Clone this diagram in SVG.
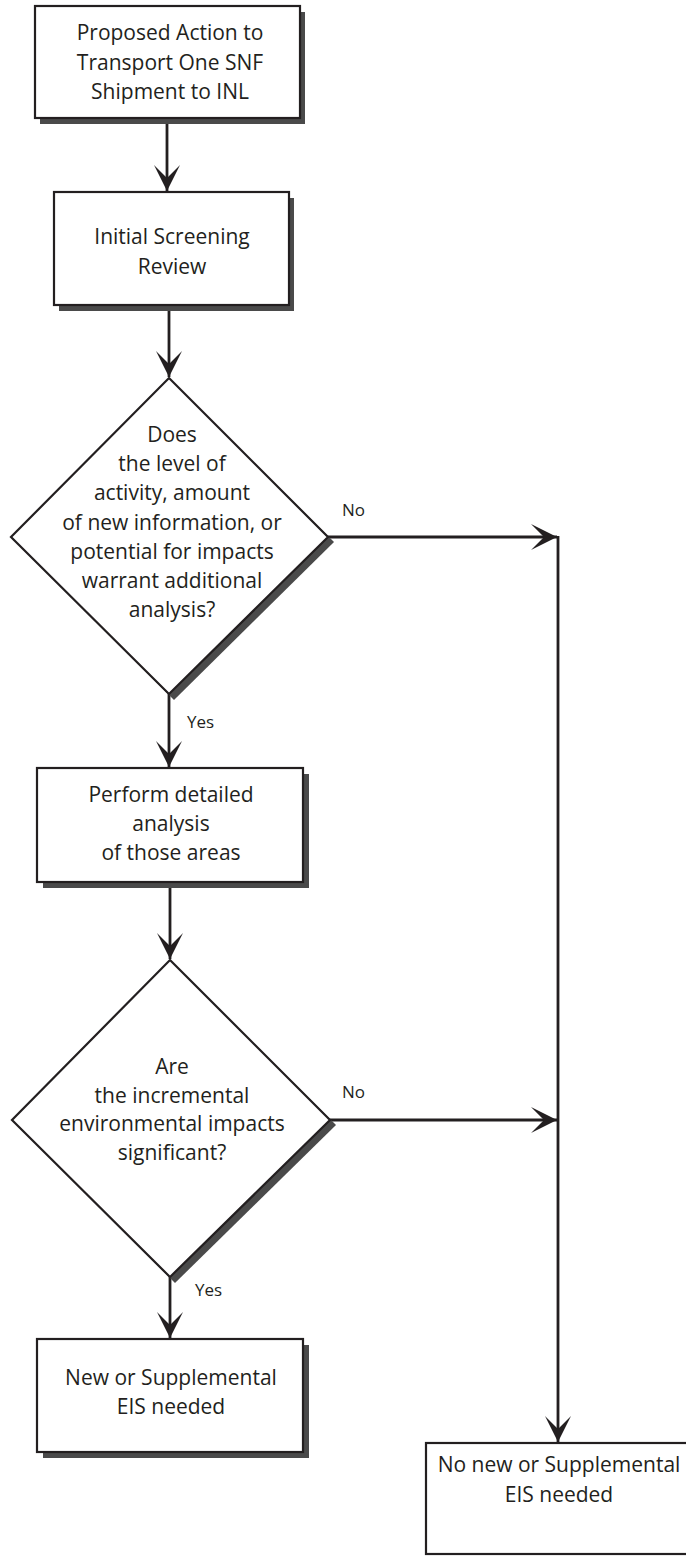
<svg xmlns="http://www.w3.org/2000/svg" width="686" height="1557" viewBox="0 0 686 1557">
<style>
.bg{fill:#ffffff}
.box{fill:#ffffff;stroke:#231f20;stroke-width:2.2}
.shadow{fill:#4a4a4a}
.t{font-family:"Open Sans","Liberation Sans",sans-serif;font-size:21px;fill:#231f20;text-anchor:middle}
.lbl{font-family:"Open Sans","Liberation Sans",sans-serif;font-size:17px;fill:#231f20}
.conn{stroke:#231f20;stroke-width:2.8;fill:none}
</style>
<defs>
<marker id="arr" viewBox="-27 -14 28 28" refX="0" refY="0" markerWidth="28" markerHeight="28" markerUnits="userSpaceOnUse" orient="auto">
<path d="M0,0 L-26,-13 L-13,0 L-26,13 Z" fill="#231f20"/>
</marker>
</defs>
<rect class="bg" x="0" y="0" width="686" height="1557"/>

<g id="connectors">
<line class="conn" x1="167" y1="119" x2="167" y2="191" marker-end="url(#arr)"/>
<line class="conn" x1="169" y1="306" x2="169" y2="377" marker-end="url(#arr)"/>
<line class="conn" x1="169" y1="694" x2="169" y2="767" marker-end="url(#arr)"/>
<line class="conn" x1="170" y1="883" x2="170" y2="959" marker-end="url(#arr)"/>
<line class="conn" x1="170" y1="1276" x2="170" y2="1338" marker-end="url(#arr)"/>
<line class="conn" x1="328" y1="537" x2="557" y2="537" marker-end="url(#arr)"/>
<line class="conn" x1="330" y1="1120" x2="557" y2="1120" marker-end="url(#arr)"/>
<line class="conn" x1="558" y1="536" x2="558" y2="1442" marker-end="url(#arr)"/>
<text class="lbl" x="342" y="516">No</text>
<text class="lbl" x="187" y="728">Yes</text>
<text class="lbl" x="342" y="1098">No</text>
<text class="lbl" x="195" y="1296">Yes</text>
</g>

<g id="n1">
<rect class="shadow" x="40" y="12" width="265" height="112"/>
<rect class="box" x="35" y="6" width="265" height="112"/>
<text class="t" x="170" y="40">Proposed Action to</text>
<text class="t" x="170" y="70">Transport One SNF</text>
<text class="t" x="170" y="99">Shipment to INL</text>
</g>

<g id="n2">
<rect class="shadow" x="59" y="198" width="235" height="113"/>
<rect class="box" x="54" y="192" width="235" height="113"/>
<text class="t" x="172" y="244">Initial Screening</text>
<text class="t" x="172" y="274">Review</text>
</g>

<g id="d1">
<polygon class="shadow" points="174,383 334,542 174,700 16,542"/>
<polygon class="box" points="169,378 328,537 169,694 11,537"/>
<text class="t" x="172" y="442">Does</text>
<text class="t" x="172" y="471">the level of</text>
<text class="t" x="172" y="500">activity, amount</text>
<text class="t" x="172" y="530">of new information, or</text>
<text class="t" x="172" y="559">potential for impacts</text>
<text class="t" x="172" y="588">warrant additional</text>
<text class="t" x="172" y="617">analysis?</text>
</g>

<g id="n3">
<rect class="shadow" x="43" y="774" width="266" height="114"/>
<rect class="box" x="37" y="768" width="266" height="114"/>
<text class="t" x="171" y="802">Perform detailed</text>
<text class="t" x="171" y="831">analysis</text>
<text class="t" x="171" y="860">of those areas</text>
</g>

<g id="d2">
<polygon class="shadow" points="175,965 336,1125 175,1283 17,1125"/>
<polygon class="box" points="170,960 330,1120 170,1277 12,1120"/>
<text class="t" x="172" y="1074">Are</text>
<text class="t" x="172" y="1103">the incremental</text>
<text class="t" x="172" y="1131">environmental impacts</text>
<text class="t" x="172" y="1160">significant?</text>
</g>

<g id="n4">
<rect class="shadow" x="43" y="1345" width="266" height="113"/>
<rect class="box" x="37" y="1339" width="266" height="113"/>
<text class="t" x="171" y="1385">New or Supplemental</text>
<text class="t" x="171" y="1414">EIS needed</text>
</g>

<g id="n5">
<rect class="box" x="426" y="1443" width="270" height="111"/>
<text class="t" x="559" y="1472">No new or Supplemental</text>
<text class="t" x="559" y="1502">EIS needed</text>
</g>
</svg>
